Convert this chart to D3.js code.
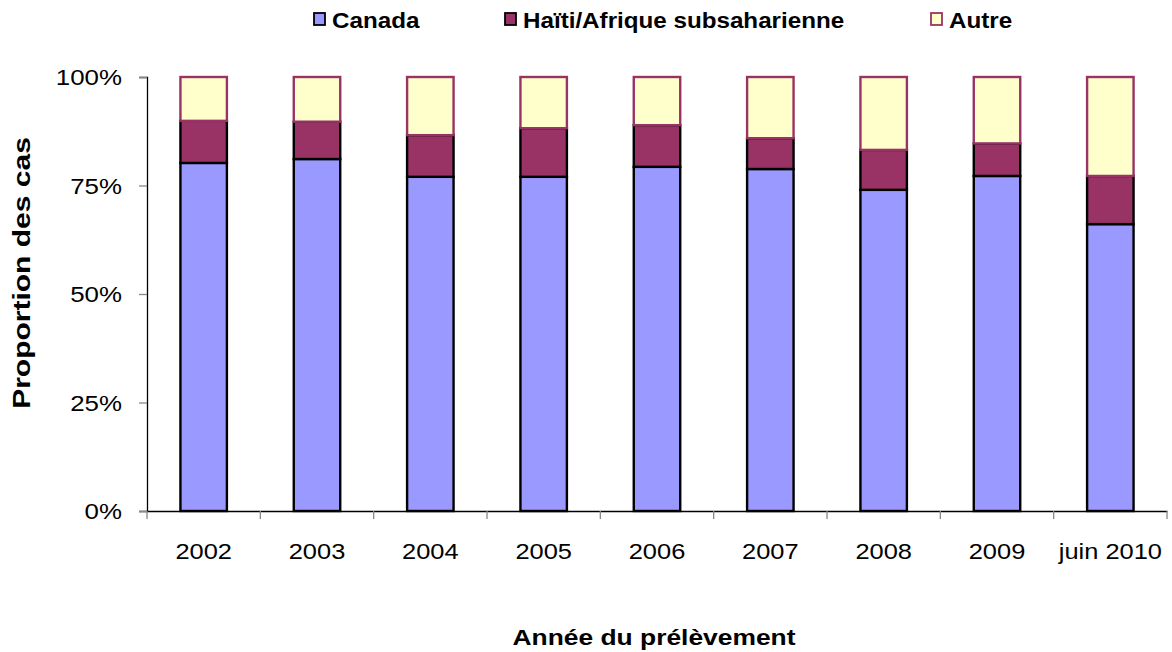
<!DOCTYPE html>
<html>
<head>
<meta charset="utf-8">
<script src="https://cdn.jsdelivr.net/npm/d3@7"></script>
<style>
  body { margin: 0; background: #fff; }
  text { font-family: "Liberation Sans", Arial, sans-serif; fill: #000; }
</style>
</head>
<body>
<svg id="chart" width="1172" height="652"></svg>
<script>
// donnees (proportions en %)
const annees = ["2002", "2003", "2004", "2005", "2006", "2007", "2008", "2009", "juin 2010"];
const canada = [80.2, 81.1, 77.0, 77.0, 79.3, 78.8, 74.0, 77.2, 66.1];
const haitiAfrique = [9.7, 8.6, 9.6, 11.2, 9.6, 7.1, 9.2, 7.5, 11.1];
const autre = [10.1, 10.3, 13.4, 11.8, 11.1, 14.1, 16.8, 15.3, 22.8];
const series = ["Canada", "Haïti/Afrique subsaharienne", "Autre"];
const yTicks = [0, 0.25, 0.5, 0.75, 1];

const couleurs = { "Canada": "#9999ff", "Haïti/Afrique subsaharienne": "#993366", "Autre": "#ffffcc" };
const contours = { "Canada": "#000", "Haïti/Afrique subsaharienne": "#000", "Autre": "#993366" };

const svg = d3.select("#chart");

const data = annees.map((a, i) => ({
  annee: a,
  "Canada": canada[i] / 100,
  "Haïti/Afrique subsaharienne": haitiAfrique[i] / 100,
  "Autre": autre[i] / 100
}));

const x = d3.scaleBand()
  .domain(annees)
  .range([147, 1167])
  .padding(0);

const y = d3.scaleLinear()
  .domain([0, 1])
  .range([511, 77]);

const barW = x.bandwidth() * 0.41;

// texte etire horizontalement comme dans l'image d'origine
function label(parent, txt, px, py, opts) {
  const o = Object.assign({ size: 22, weight: "normal", anchor: "middle", sx: 1.15, rot: 0 }, opts);
  parent.append("text")
    .attr("transform", `translate(${px},${py}) rotate(${o.rot}) scale(${o.sx},1)`)
    .attr("text-anchor", o.anchor)
    .attr("font-size", o.size + "px")
    .attr("font-weight", o.weight)
    .text(txt);
}

// barres empilees
const stack = d3.stack().keys(series)(data);

svg.append("g")
  .selectAll("g")
  .data(stack)
  .join("g")
    .attr("fill", d => couleurs[d.key])
    .attr("stroke", d => contours[d.key])
    .attr("stroke-width", 2.4)
  .selectAll("rect")
  .data(d => d)
  .join("rect")
    .attr("x", d => x(d.data.annee) + (x.bandwidth() - barW) / 2)
    .attr("y", d => y(d[1]))
    .attr("width", barW)
    .attr("height", d => y(d[0]) - y(d[1]));

// axe Y
const yAxis = svg.append("g")
  .attr("transform", "translate(147,0)")
  .call(d3.axisLeft(y).tickValues(yTicks).tickSize(8).tickFormat(() => ""));
yAxis.select(".domain").attr("stroke", "#000").attr("stroke-width", 1.3);
yAxis.selectAll(".tick line").attr("stroke", "#888").attr("stroke-width", 1.3);

yTicks.forEach(t => {
  label(svg, d3.format(".0%")(t), 122, y(t) + 8, { anchor: "end", size: 22.5 });
});

// axe X
const xAxis = svg.append("g")
  .attr("transform", "translate(0,511)")
  .call(d3.axisBottom(x).tickSize(0).tickFormat(() => ""));
xAxis.select(".domain").attr("stroke", "#000").attr("stroke-width", 1.3);
xAxis.selectAll(".tick").remove();

const bords = annees.map(a => x(a)).concat([x.range()[1]]);
svg.append("g")
  .selectAll("line")
  .data(bords)
  .join("line")
    .attr("x1", d => d).attr("x2", d => d)
    .attr("y1", 511).attr("y2", 519)
    .attr("stroke", "#888")
    .attr("stroke-width", 1.3);

annees.forEach(a => {
  label(svg, a, x(a) + x.bandwidth() / 2, 559, { size: 22.5, sx: 1.13 });
});

// titres des axes
label(svg, "Année du prélèvement", 654, 645, { weight: "bold", sx: 1.2 });
label(svg, "Proportion des cas", 30, 273, { weight: "bold", rot: -90, size: 24, sx: 1.25 });

// legende
const legendePos = [314, 505, 931];
series.forEach((s, i) => {
  svg.append("rect")
    .attr("x", legendePos[i]).attr("y", 13)
    .attr("width", 11).attr("height", 12)
    .attr("fill", couleurs[s])
    .attr("stroke", contours[s])
    .attr("stroke-width", 1.8);
  label(svg, s, legendePos[i] + 18, 28, { weight: "bold", anchor: "start", size: 22, sx: 1.1 });
});
</script>
</body>
</html>
